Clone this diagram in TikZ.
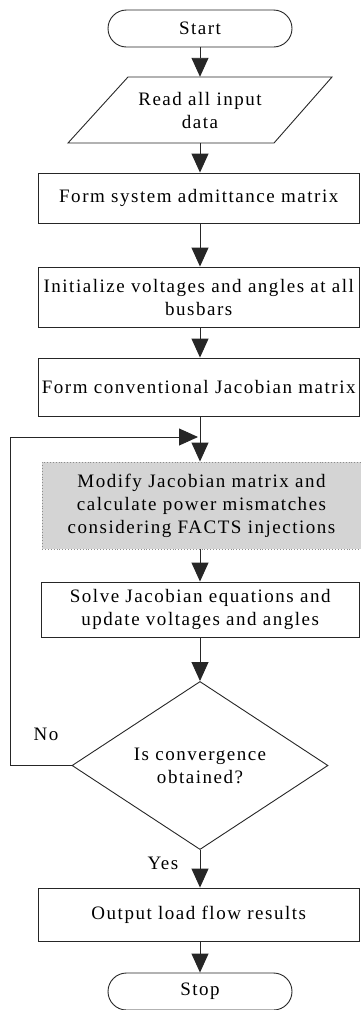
\documentclass[tikz,border=0pt]{standalone}
\usepackage{fontspec}
\setmainfont{Liberation Serif}[LetterSpace=8]
\usetikzlibrary{arrows.meta,shapes.misc,shapes.geometric}
\begin{document}
\begin{tikzpicture}[x=1pt,y=-1pt,
  every node/.style={font=\fontsize{19}{23}\selectfont, text=black, align=center, inner sep=0pt},
  box/.style={draw=black!85, line width=0.9pt, rectangle, minimum height=#1},
  term/.style={draw=black!85, line width=0.9pt, rounded rectangle, minimum width=184pt, minimum height=37pt},
  arr/.style={draw=black!85, line width=0.9pt, -{Triangle[length=19pt,width=17pt]}},
  ln/.style={draw=black!85, line width=0.9pt}]
\useasboundingbox (0,0) rectangle (360,1010);
\node[term] (start) at (200,28.5) {Start};
% parallelogram
\draw[ln] (128,77) -- (332,77) -- (274,143) -- (68,143) -- cycle;
\node[minimum width=204pt, minimum height=66pt] (read) at (200,110) {Read all input\\data};
\node[box=50pt, minimum width=321.5pt] (adm) at (198.75,198) {Form system admittance matrix};
\node[box=60pt, minimum width=321.5pt] (init) at (198.75,297) {Initialize voltages and angles at all\\busbars};
\node[box=58pt, minimum width=321.5pt] (conv) at (198.75,387) {Form conventional Jacobian matrix};
\node[rectangle, fill=black!17, draw=black!45, dotted, line width=0.9pt, minimum width=319pt, minimum height=87pt] (mod) at (201.5,505.5) {Modify Jacobian matrix and\\calculate power mismatches\\considering FACTS injections};
\node[box=55pt, minimum width=318.5pt] (solve) at (200.25,609.5) {Solve Jacobian equations and\\update voltages and angles};
\node[diamond, draw=black!85, line width=0.9pt, minimum width=256pt, minimum height=159pt] (dec) at (200,765.5) {Is convergence\\obtained?};
\node[box=53pt, minimum width=321.5pt] (out) at (198.75,914.5) {Output load flow results};
\node[term] (stop) at (200,991.5) {Stop};
\node (no) at (46,734) {No};
\node (yes) at (163,863) {Yes};
\coordinate (lc) at (10,437);
\coordinate (jn) at (200,437);
\draw[arr] (start.south) -- (read.north);
\draw[arr] (read.south) -- (read.south |- adm.north);
\draw[arr] (read.south |- adm.south) -- (read.south |- init.north);
\draw[arr] (read.south |- init.south) -- (read.south |- conv.north);
\draw[arr] (read.south |- conv.south) -- (read.south |- mod.north);
\draw[arr] (read.south |- mod.south) -- (read.south |- solve.north);
\draw[arr] (read.south |- solve.south) -- (dec.north);
\draw[arr] (dec.south) -- (dec.south |- out.north);
\draw[arr] (dec.south |- out.south) -- (stop.north);
\draw[arr] (dec.west) -| (lc) -- ([xshift=-2pt]jn);
\end{tikzpicture}
\end{document}
